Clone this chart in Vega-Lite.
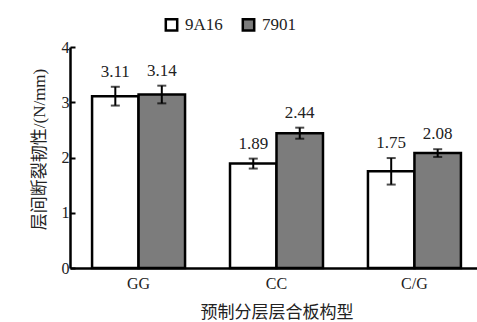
{
  "$schema": "https://vega.github.io/schema/vega-lite/v6.json",
  "autosize": "none",
  "width": 413,
  "height": 221,
  "padding": {"left": 70, "top": 47, "right": 0, "bottom": 54},
  "background": "white",
  "config": {
    "view": {"stroke": null},
    "font": "Liberation Serif",
    "text": {"font": "Liberation Serif"},
    "legend": {"labelFont": "Liberation Serif"},
    "axis": {"labelFont": "Liberation Serif", "labelColor": "#222", "titleColor": "#222", "titleFontWeight": "normal"}
  },
  "data": {
    "values": [
      {"type": "GG", "series": "9A16", "value": 3.11, "err": 0.17},
      {"type": "GG", "series": "7901", "value": 3.14, "err": 0.16},
      {"type": "CC", "series": "9A16", "value": 1.89, "err": 0.09},
      {"type": "CC", "series": "7901", "value": 2.44, "err": 0.1},
      {"type": "C/G", "series": "9A16", "value": 1.75, "err": 0.24},
      {"type": "C/G", "series": "7901", "value": 2.08, "err": 0.07}
    ]
  },
  "transform": [
    {"calculate": "datum.value - datum.err", "as": "lo"},
    {"calculate": "datum.value + datum.err", "as": "hi"}
  ],
  "encoding": {
    "x": {
      "field": "type",
      "type": "nominal",
      "sort": ["GG", "CC", "C/G"],
      "scale": {"paddingInner": 0.326, "paddingOuter": 0.16},
      "axis": {
        "title": "预制分层层合板构型",
        "titleFont": "Liberation Serif, Noto Sans CJK SC",
        "titleFontSize": 17,
        "titlePadding": 13,
        "labelAngle": 0,
        "labelFontSize": 16,
        "labelPadding": 7,
        "ticks": false,
        "domainColor": "black",
        "domainWidth": 2.5
      }
    },
    "xOffset": {
      "field": "series",
      "type": "nominal",
      "sort": ["9A16", "7901"],
      "scale": {"paddingInner": 0, "paddingOuter": 0}
    }
  },
  "layer": [
    {
      "mark": {"type": "bar", "stroke": "black", "strokeWidth": 2.5},
      "encoding": {
        "y": {
          "field": "value",
          "type": "quantitative",
          "scale": {"domain": [0, 4]},
          "axis": {
            "title": "层间断裂韧性/(N/mm)",
            "titleFont": "Liberation Serif, Noto Sans CJK SC",
            "titleFontSize": 17,
            "titlePadding": 13,
            "titleY": 102,
            "values": [0, 1, 2, 3, 4],
            "format": "d",
            "grid": false,
            "labelFontSize": 16,
            "labelPadding": 6,
            "tickSize": -5,
            "tickWidth": 2,
            "tickColor": "black",
            "domainColor": "black",
            "domainWidth": 2.5
          }
        },
        "fill": {
          "field": "series",
          "type": "nominal",
          "sort": ["9A16", "7901"],
          "scale": {"domain": ["9A16", "7901"], "range": ["#ffffff", "#7c7c7c"]},
          "legend": {
            "title": null,
            "orient": "none",
            "direction": "horizontal",
            "legendX": 93,
            "legendY": -31,
            "symbolType": "square",
            "symbolSize": 130,
            "symbolStrokeColor": "black",
            "symbolStrokeWidth": 2.5,
            "labelFont": "Liberation Serif",
            "labelFontSize": 17,
            "labelColor": "#222",
            "columnPadding": 14,
            "labelOffset": 5
          }
        }
      }
    },
    {
      "mark": {"type": "rule", "color": "black", "strokeWidth": 2},
      "encoding": {
        "y": {"field": "lo", "type": "quantitative"},
        "y2": {"field": "hi"}
      }
    },
    {
      "mark": {"type": "tick", "color": "black", "thickness": 2, "size": 9, "orient": "horizontal"},
      "encoding": {"y": {"field": "lo", "type": "quantitative"}}
    },
    {
      "mark": {"type": "tick", "color": "black", "thickness": 2, "size": 9, "orient": "horizontal"},
      "encoding": {"y": {"field": "hi", "type": "quantitative"}}
    },
    {
      "mark": {"type": "text", "font": "Liberation Serif", "dy": -6, "fontSize": 17, "color": "#222", "baseline": "bottom"},
      "encoding": {
        "y": {"field": "hi", "type": "quantitative"},
        "text": {"field": "value", "type": "quantitative", "format": ".2f"}
      }
    }
  ]
}
